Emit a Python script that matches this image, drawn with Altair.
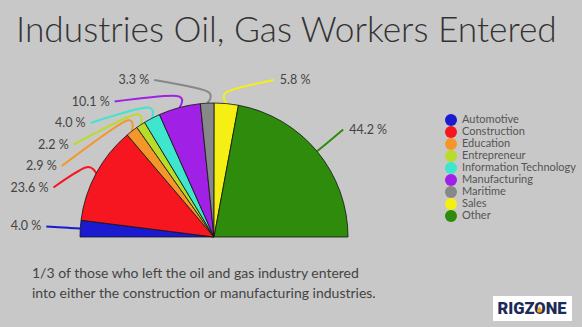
import math
import pandas as pd
import altair as alt

# ---- data ----
categories = ["Automotive", "Construction", "Education", "Entrepreneur",
              "Information Technology", "Manufacturing", "Maritime", "Sales", "Other"]
shares = [4.0, 23.6, 2.9, 2.2, 4.0, 10.1, 3.3, 5.8, 44.2]
colors = ["#1a1ad0", "#f5161f", "#f5962a", "#b9dc2a", "#3de6cc",
          "#a020e6", "#888888", "#f5ef14", "#2e8b0c"]
title_text = "Industries Oil, Gas Workers Entered"
caption_text = ("1/3 of those who left the oil and gas industry entered\n"
                "into either the construction or manufacturing industries.")
logo_text = "RIGZONE"

# ---- layout ----
W, H = 582, 327
CX, CY, R = 214, 237, 134
RL = 168      # radius where leader lines end
GAP = 21.5    # minimum vertical spacing between labels
TOP = 80      # highest label position

total = sum(shares)
mids = []
acc = 0.0
for v in shares:
    mids.append(180.0 * (acc + v / 2) / total)
    acc += v


def pos(r, a):
    t = math.radians(a)
    return CX - r * math.cos(t), CY - r * math.sin(t)


label_y = [CY - RL * math.sin(math.radians(a)) for a in mids]
left = [i for i, a in enumerate(mids) if a < 90]
right = [i for i, a in enumerate(mids) if a >= 90][::-1]
for group in (left, right):
    for k in range(1, len(group)):
        i, p = group[k], group[k - 1]
        label_y[i] = min(label_y[i], label_y[p] - GAP)
    label_y[group[-1]] = max(label_y[group[-1]], TOP)
    for k in range(len(group) - 2, -1, -1):
        i, n = group[k], group[k + 1]
        label_y[i] = max(label_y[i], label_y[n] + GAP)

line_rows, label_rows = [], []
for i, cat in enumerate(categories):
    side = -1 if mids[i] < 90 else 1
    y_end = label_y[i]
    x_end = CX + side * math.sqrt(max(RL ** 2 - (CY - y_end) ** 2, 0))
    p0 = pos(R, mids[i])
    p1 = pos(R + 12, mids[i])
    for s, (x, y) in enumerate([p0, p1, (x_end, y_end)]):
        line_rows.append({"category": cat, "step": s, "x": x, "y": y})
    label_rows.append({"category": cat, "side": "L" if side < 0 else "R",
                       "x": x_end + (-5 if side < 0 else 6), "y": y_end,
                       "label": f"{shares[i]:.1f} %"})

pie_df = pd.DataFrame({"category": categories, "share": shares, "idx": list(range(len(categories)))})
line_df = pd.DataFrame(line_rows)
label_df = pd.DataFrame(label_rows)

xs = alt.Scale(domain=[0, W], range=[0, W], nice=False, zero=False)
ys = alt.Scale(domain=[0, H], range=[0, H], nice=False, zero=False)
cscale = alt.Scale(domain=categories, range=colors)

FONT = "Lato"
legend = alt.Legend(title=None, orient="none", legendX=445, legendY=114,
                    symbolType="circle", symbolSize=144, symbolStrokeWidth=0,
                    labelFont=FONT, labelFontSize=11, labelColor="#555555",
                    rowPadding=0, labelOffset=5)

arc = alt.Chart(pie_df).mark_arc(outerRadius=R, stroke="#111111", strokeWidth=0.8).encode(
    theta=alt.Theta("share:Q", stack=True, scale=alt.Scale(range=[1.5 * math.pi, 2.5 * math.pi])),
    color=alt.Color("category:N", scale=cscale, sort=categories, legend=legend),
    order=alt.Order("idx:Q"),
    x=alt.value(CX), y=alt.value(CY),
)

lines = alt.Chart(line_df).mark_line(strokeWidth=2, interpolate="cardinal").encode(
    x=alt.X("x:Q", scale=xs, axis=None),
    y=alt.Y("y:Q", scale=ys, axis=None),
    color=alt.Color("category:N", scale=cscale, sort=categories, legend=legend),
    detail="category:N",
    order="step:Q",
)

lab_left = alt.Chart(label_df).transform_filter(alt.datum.side == "L").mark_text(
    align="right", baseline="middle", font=FONT, fontSize=12.5, color="#444444").encode(
    x=alt.X("x:Q", scale=xs, axis=None), y=alt.Y("y:Q", scale=ys, axis=None), text="label:N")
lab_right = alt.Chart(label_df).transform_filter(alt.datum.side == "R").mark_text(
    align="left", baseline="middle", font=FONT, fontSize=12.5, color="#444444").encode(
    x=alt.X("x:Q", scale=xs, axis=None), y=alt.Y("y:Q", scale=ys, axis=None), text="label:N")

title = alt.Chart(pd.DataFrame({"t": [title_text]})).mark_text(
    align="left", baseline="alphabetic", font=FONT, fontWeight=300, fontSize=35.3,
    color="#333333").encode(x=alt.value(16), y=alt.value(42), text="t:N")

caption = alt.Chart(pd.DataFrame({"t": [caption_text]})).mark_text(
    align="left", baseline="alphabetic", font=FONT, fontSize=14, color="#444444",
    lineBreak="\n", lineHeight=20).encode(
    x=alt.value(32), y=alt.value(278), text="t:N")

logo_box = alt.Chart(pd.DataFrame({"t": [logo_text]})).mark_rect(color="white").encode(
    x=alt.value(493), x2=alt.value(572), y=alt.value(296), y2=alt.value(321))
logo = alt.Chart(pd.DataFrame({"t": [logo_text]})).mark_text(
    align="center", baseline="middle", font="Roboto", fontWeight=900, fontSize=16.5,
    color="#1c2b57").encode(x=alt.value(532), y=alt.value(309), text="t:N")
drop_shape = "M0,-1 C0.45,-0.35 0.75,0.05 0.75,0.4 A0.75,0.6 0 1,1 -0.75,0.4 C-0.75,0.05 -0.45,-0.35 0,-1 Z"
logo_drop = alt.Chart(pd.DataFrame({"t": [logo_text]})).mark_point(
    shape=drop_shape, filled=True, color="#f2a51a", opacity=1, size=45).encode(
    x=alt.value(539.5), y=alt.value(309.5))

chart = alt.layer(lines, arc, lab_left, lab_right, title, caption,
                  logo_box, logo, logo_drop).properties(
    width=W, height=H, autosize=alt.AutoSizeParams(type="none"), padding=0,
    background="#c8c8c8",
).configure_view(stroke=None)

chart.save("out.html", embed_options={"renderer": "svg", "actions": False})
